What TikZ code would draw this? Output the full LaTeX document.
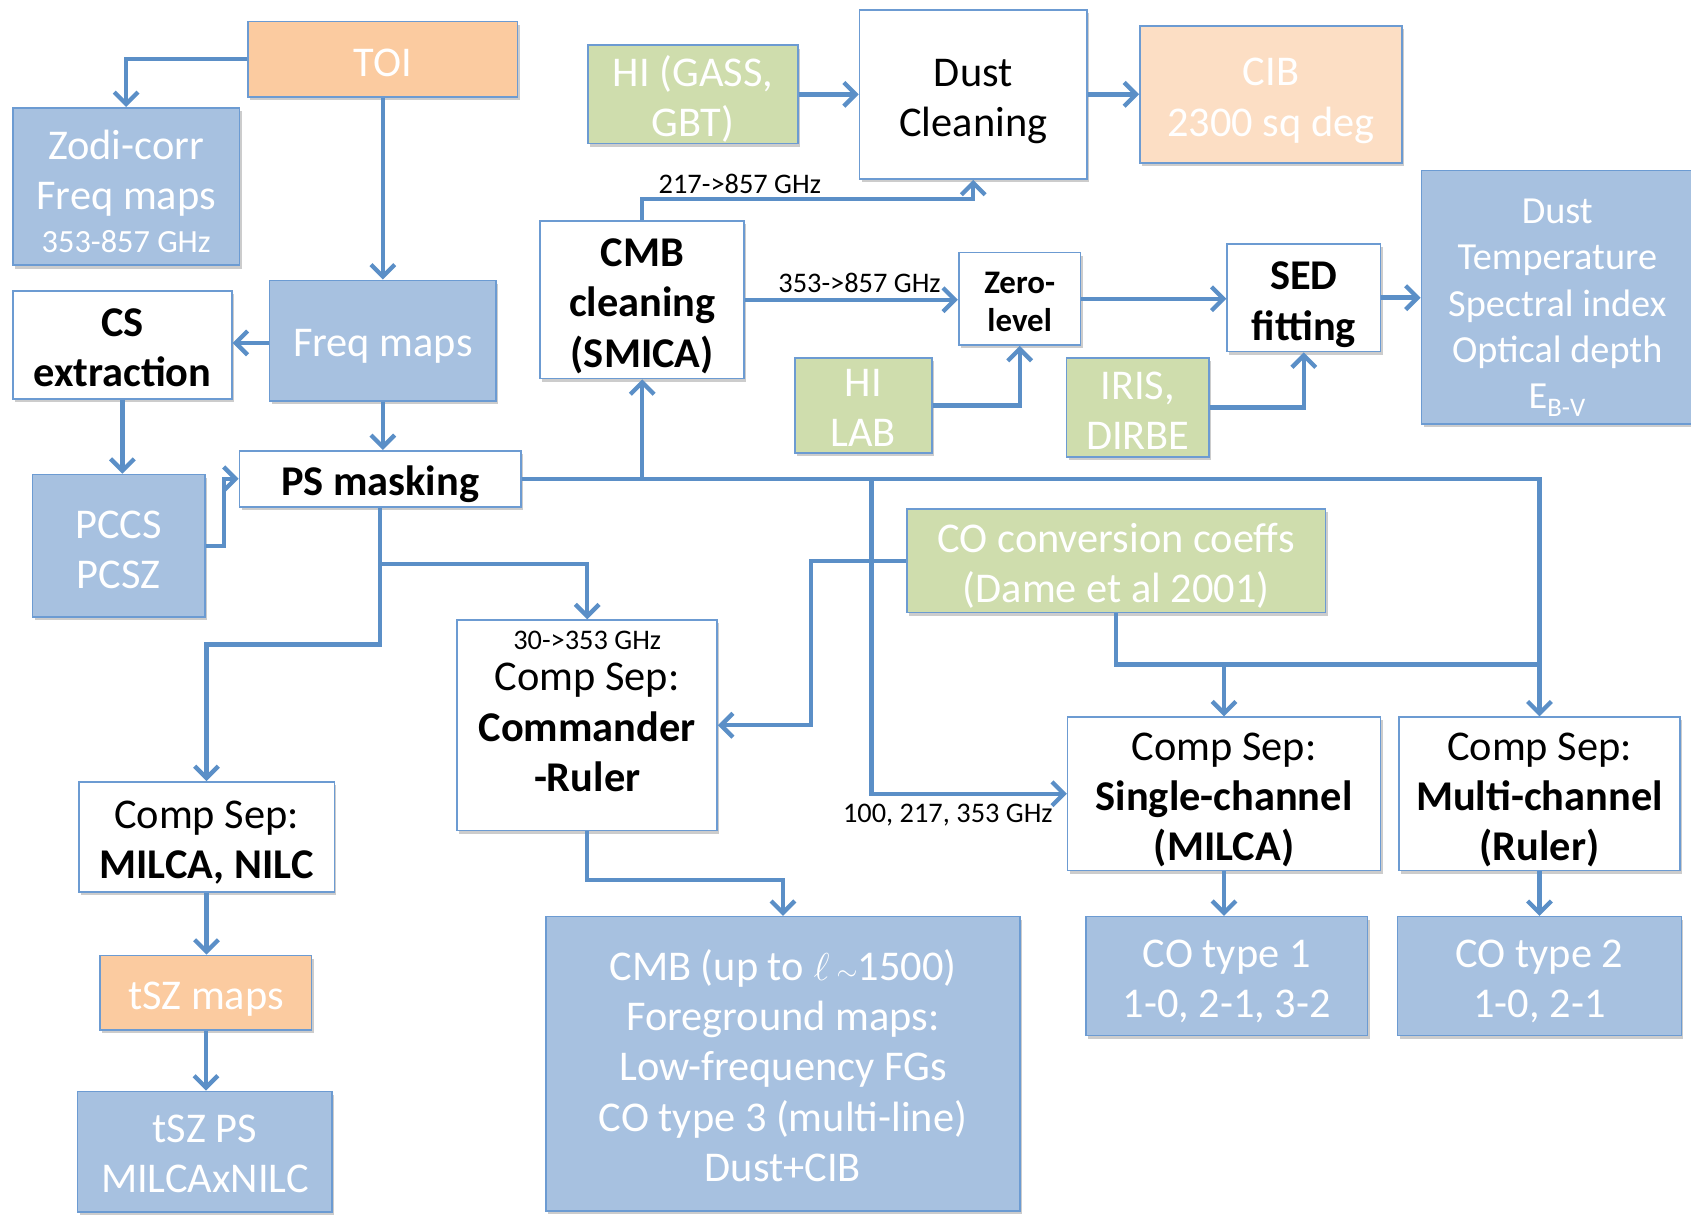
\documentclass[tikz,border=0pt]{standalone}
\usepackage{fontspec}
\setmainfont{Carlito}
\usetikzlibrary{arrows.meta,shadows,calc}
\definecolor{bluef}{HTML}{A7C1E0}
\definecolor{orangef}{HTML}{FBCBA0}
\definecolor{peachf}{HTML}{FCDEC4}
\definecolor{greenf}{HTML}{CFDDAD}
\definecolor{bord}{HTML}{6C9BD2}
\definecolor{linec}{HTML}{5B8FC7}
\newcommand{\bigsz}{\fontsize{39.3}{46.5}\selectfont}
\newcommand{\midsz}{\fontsize{35.5}{43}\selectfont}
\newcommand{\zerosz}{\fontsize{30.5}{35}\selectfont}
\newcommand{\smsz}{\fontsize{26.3}{31}\selectfont}
% centred lines, lowered by #1 pt inside the box
\newcommand{\tx}[2][5]{\raisebox{-#1pt}[\height][\depth]{\vbox{\let\\\cr\halign{\hfil##\hfil\cr#2\crcr}}}}
\begin{document}
\begin{tikzpicture}[x=1pt,y=-1pt,
  nodebox/.style={draw=bord,line width=1.5pt,inner sep=0pt,font=\bigsz,
     drop shadow={shadow xshift=2pt,shadow yshift=-3pt,opacity=0.2,fill=black}},
  bluebox/.style={nodebox,fill=bluef,text=white},
  orangebox/.style={nodebox,fill=orangef,text=white},
  peachbox/.style={nodebox,fill=peachf,text=white},
  greenbox/.style={nodebox,fill=greenf,text=white},
  whitebox/.style={nodebox,fill=white,text=black},
  sz/.style 2 args={minimum width=#1pt,minimum height=#2pt},
  conn/.style={draw=linec,line width=4pt},
  arr/.style={conn,-{Straight Barb[length=11pt,width=22pt]}},
  lbl/.style={font=\smsz,inner sep=0pt,text=black}
]
\useasboundingbox (0,0) rectangle (1568,1126);

% nodes
\node[orangebox,sz={250}{70}] (toi) at (355,55) {\tx[3]{TOI}};
\node[bluebox,sz={210}{146}] (zodi) at (117,173) {\tx[4.5]{Zodi-corr\\Freq maps\\\noalign{\vskip-7pt}{\fontsize{30}{34}\selectfont 353-857 GHz}}};
\node[bluebox,sz={210}{112}] (freq) at (355,316) {\tx[5]{Freq maps}};
\node[whitebox,sz={203}{100}] (cs) at (113.5,320) {\tx[2.5]{\textbf{CS}\\\textbf{extraction}}};
\node[whitebox,sz={261}{52}] (ps) at (352.5,444) {\tx[5]{\textbf{PS masking}}};
\node[bluebox,sz={160}{132}] (pccs) at (110,506) {\tx[3.5]{PCCS\\PCSZ}};
\node[greenbox,sz={195}{91}] (higass) at (642.5,87.5) {\tx[4.5]{HI (GASS,\\GBT)}};
\node[whitebox,sz={211}{157}] (dustc) at (902.5,87.5) {\tx[7]{Dust\\Cleaning}};
\node[peachbox,sz={243}{127}] (cib) at (1178.5,87.5) {\tx[6]{CIB\\2300 sq deg}};
\node[whitebox,sz={189}{146}] (smica) at (595.5,278) {\tx[6]{\textbf{CMB}\\\textbf{cleaning}\\\textbf{(SMICA)}}};
\node[whitebox,sz={113}{86},font=\zerosz\bfseries] (zero) at (945.5,277) {\tx[3]{Zero-\\level}};
\node[whitebox,sz={142}{100}] (sed) at (1209,276) {\tx[6.5]{\textbf{SED}\\\textbf{fitting}}};
\node[bluebox,sz={252}{235},font=\midsz] (dustt) at (1444,275.5) {\tx[10]{Dust\\Temperature\\Spectral index\\Optical depth\\E\textsubscript{B-V}}};
\node[greenbox,sz={127}{88}] (hilab) at (800.5,376) {\tx[2]{HI\\LAB}};
\node[greenbox,sz={132}{92}] (iris) at (1055,378) {\tx[3]{IRIS,\\DIRBE}};
\node[greenbox,sz={388}{96}] (coconv) at (1035,520) {\tx[5]{CO conversion coeffs\\(Dame et al 2001)}};
\node[whitebox,sz={241}{195}] (cmdr) at (544.5,672.5) {\tx[-13]{{\smsz 30->353 GHz}\\\noalign{\vskip-8pt}Comp Sep:\\\textbf{Commander}\\\textbf{-Ruler}}};
\node[whitebox,sz={237}{102}] (milca) at (191.5,776) {\tx[5]{Comp Sep:\\\textbf{MILCA, NILC}}};
\node[orangebox,sz={196}{69}] (tszm) at (191,920.5) {\tx[6]{tSZ maps}};
\node[bluebox,sz={236}{112}] (tszps) at (190,1068) {\tx[2]{tSZ PS\\MILCAxNILC}};
\node[bluebox,sz={440}{273}] (cmbbig) at (726,986.5) {\tx[1.5]{CMB (up to \scalebox{1.45}{$\ell$}\,$\sim$1500)\\Foreground maps:\\Low-frequency FGs\\CO type 3 (multi-line)\\Dust+CIB}};
\node[whitebox,sz={290}{142}] (single) at (1135,736) {\tx[5.5]{Comp Sep:\\\textbf{Single-channel}\\\textbf{(MILCA)}}};
\node[whitebox,sz={261}{142}] (multi) at (1427.5,736) {\tx[5.5]{Comp Sep:\\\textbf{Multi-channel}\\\textbf{(Ruler)}}};
\node[bluebox,sz={261}{110}] (co1) at (1137.5,905) {\tx[5]{CO type 1\\1-0, 2-1, 3-2}};
\node[bluebox,sz={263}{110}] (co2) at (1427.5,905) {\tx[5]{CO type 2\\1-0, 2-1}};

% connectors
\draw[arr] (toi.west) -| (zodi.north);
\draw[arr] (toi.south) -- (freq.north);
\draw[arr] (freq.west |- 0,318) -- (cs.east |- 0,318);
\draw[arr] (cs.south) -- (cs.south |- pccs.north);
\draw[arr] (freq.south) -- (freq.south |- ps.north);
\draw[arr] (pccs.east) -- ++(17,0) |- (ps.west);
\draw[arr] (ps.south) -- ++(0,127) -| (milca.north);
\draw[arr] (ps.south) ++(0,52) -| (cmdr.north);
\draw[arr] (ps.east) -| (multi.north);
\draw[arr] (ps.east -| smica.south) -- (smica.south);
\draw[arr] (ps.east -| 808,0) |- (single.west);
\node[lbl,anchor=east] at ([xshift=-13pt,yshift=-20pt]single.west) {100, 217, 353 GHz};
\draw[conn] (coconv.south) |- ([yshift=48pt]multi.north);
\draw[arr] ([yshift=48pt]single.north) -- (single.north);
\draw[arr] (coconv.west) -- ++(-88,0) |- (cmdr.east);
\draw[arr] (cmdr.south) -- ++(0,45) -| (cmbbig.north);
\draw[arr] (milca.south) -- (milca.south |- tszm.north);
\draw[arr] (tszm.south) -- (tszm.south |- tszps.north);
\draw[arr] (single.south) -- (single.south |- co1.north);
\draw[arr] (multi.south) -- (multi.south |- co2.north);
\draw[arr] (higass.east) -- (dustc.west);
\draw[arr] (dustc.east) -- (cib.west);
\draw[arr] (smica.north) -- ++(0,-20) -| (dustc.south);
\node[lbl] at (686,171) {217->857 GHz};
\draw[arr] (smica.east) -- (smica.east -| zero.west);
\node[lbl] at (797,262) {353->857 GHz};
\draw[arr] (hilab.east) -| (zero.south);
\draw[arr] (zero.east) -- (zero.east -| sed.west);
\draw[arr] (iris.east) -| (sed.south);
\draw[arr] (sed.east) -- (sed.east -| dustt.west);
\end{tikzpicture}
\end{document}
